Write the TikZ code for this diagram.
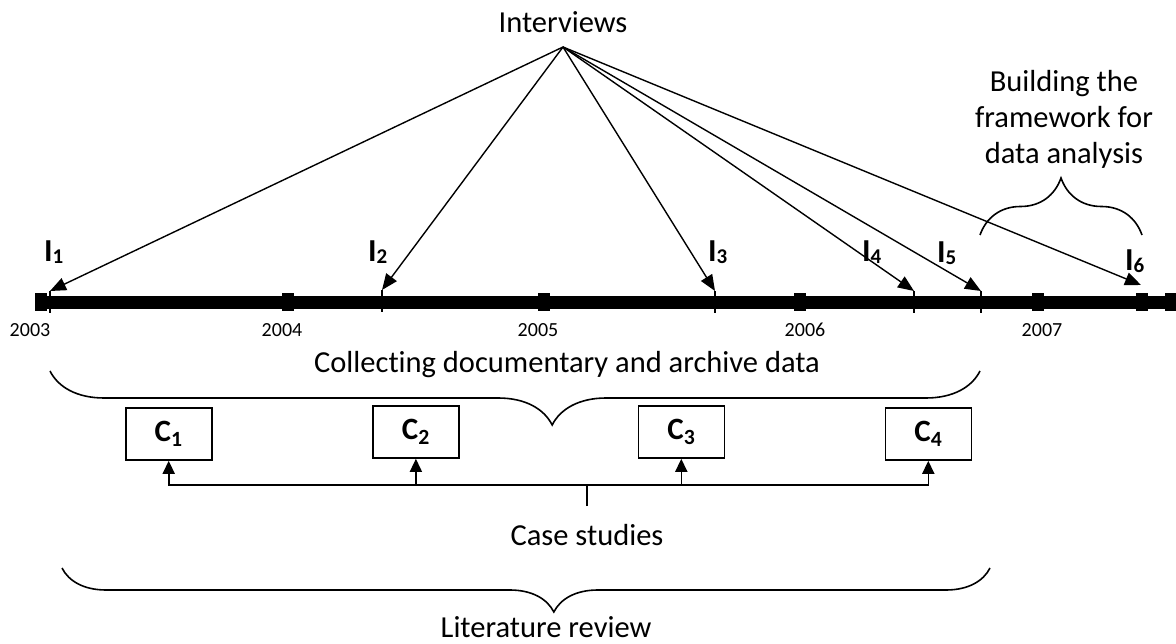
\documentclass[tikz,border=0pt]{standalone}
\usepackage{fontspec}
\setmainfont{Carlito}[Ligatures=NoCommon]
\usetikzlibrary{arrows.meta,decorations.pathreplacing}
\newcommand\subdig[1]{\raisebox{-2pt}{\fontsize{21}{21}\selectfont #1}}
\begin{document}
\begin{tikzpicture}[x=1pt,y=-1pt,
  big/.style={font=\fontsize{30.5}{36}\selectfont, inner sep=0pt},
  yr/.style={font=\fontsize{20}{24}\selectfont, inner sep=0pt, anchor=base},
  ilab/.style={font=\fontsize{32}{36}\selectfont\bfseries, inner sep=0pt, anchor=base west},
  cbox/.style={draw, line width=1.6pt, minimum width=86pt, minimum height=52pt, font=\fontsize{31}{36}\selectfont\bfseries, inner sep=0pt},
  iarr/.style={line width=1.4pt, -{Triangle[length=16pt,width=13pt]}},
  carr/.style={line width=1.6pt, -{Triangle[length=13pt,width=12pt]}},
  brc/.style={line width=1.6pt, decorate},
  tickmark/.style={line width=1.4pt},
  sq/.style={fill=black, minimum width=12pt, minimum height=18pt, inner sep=0pt}
]
\useasboundingbox (0,0) rectangle (1176,644);
\fill[white] (0,0) rectangle (1176,644);

% timeline bar
\coordinate (bar0) at (35,302.5);
\coordinate (bar1) at (1176,302.5);
\draw[line width=13pt] (bar0) -- (bar1);
\node[sq] (s0) at (41,302) {};
\node[sq] (s1) at (287.5,302) {};
\node[sq] (s2) at (544,302) {};
\node[sq] (s3) at (800,302) {};
\node[sq] (s4) at (1037.5,302) {};
\node[sq] (s5) at (1142,302) {};
\node[sq] (s6) at (1170.5,302) {};

% years
\node[yr] (y2003) at (30,337) {2003};
\node[yr] (y2004) at (282,337) {2004};
\node[yr] (y2005) at (538,337) {2005};
\node[yr] (y2006) at (805,337) {2006};
\node[yr] (y2007) at (1042,337) {2007};

% interviews
\node[big, anchor=base] (interviews) at (563,33) {Interviews};
\coordinate (apex) at (563,47);
\coordinate (t1) at (50,291);
\coordinate (t2) at (382,290);
\coordinate (t3) at (715,291);
\coordinate (t4) at (914,291);
\coordinate (t5) at (981,291);
\coordinate (t6) at (1141,285);
\foreach \t in {t1,t2,t3,t4,t5,t6} \draw[iarr] (apex) -- (\t);
\foreach \t in {t1,t2,t3,t4,t5} \draw[tickmark] (\t) -- ++(0,22);

\node[ilab] (i1) at (44,262) {I\subdig{1}};
\node[ilab] (i2) at (368,262) {I\subdig{2}};
\node[ilab] (i3) at (708,262) {I\subdig{3}};
\node[ilab] (i4) at (862,262) {I\subdig{4}};
\node[ilab] (i5) at (937,263) {I\subdig{5}};
\node[ilab] (i6) at (1125,271) {I\subdig{6}};

% building the framework
\node[big, align=center, anchor=north] (building) at (1064,70) {Building the\\framework for\\data analysis};
\coordinate (b0) at (980,235);
\coordinate (b1) at (1142,235);
\draw[brc, decoration={brace, amplitude=57pt, aspect=0.5}] (b0) -- (b1);

% collecting brace
\node[big, anchor=base] (collect) at (567,373) {Collecting documentary and archive data};
\coordinate (cb0) at (50,371);
\coordinate (cb1) at (980,371);
\draw[brc, decoration={brace, mirror, amplitude=54pt, aspect=0.54}] (cb0) -- (cb1);

% case boxes
\node[cbox] (c1) at (168.7,434) {C\textsubscript{1}};
\node[cbox] (c2) at (415.9,432) {C\textsubscript{2}};
\node[cbox] (c3) at (681.3,432) {C\textsubscript{3}};
\node[cbox] (c4) at (928.3,434) {C\textsubscript{4}};

\coordinate (hubtop) at (587,485);
\coordinate (hubbot) at (587,506);
\draw[line width=1.6pt] (hubbot) -- (hubtop);
\foreach \c in {c1,c2,c3,c4} \draw[carr] (hubtop) -| (\c);
\node[big, anchor=base] (case) at (587,545) {Case studies};

% literature brace
\coordinate (lb0) at (62,568);
\coordinate (lb1) at (990,568);
\draw[brc, decoration={brace, mirror, amplitude=44pt, aspect=0.53}] (lb0) -- (lb1);
\node[big, anchor=base] (lit) at (546,637) {Literature review};
\end{tikzpicture}
\end{document}
